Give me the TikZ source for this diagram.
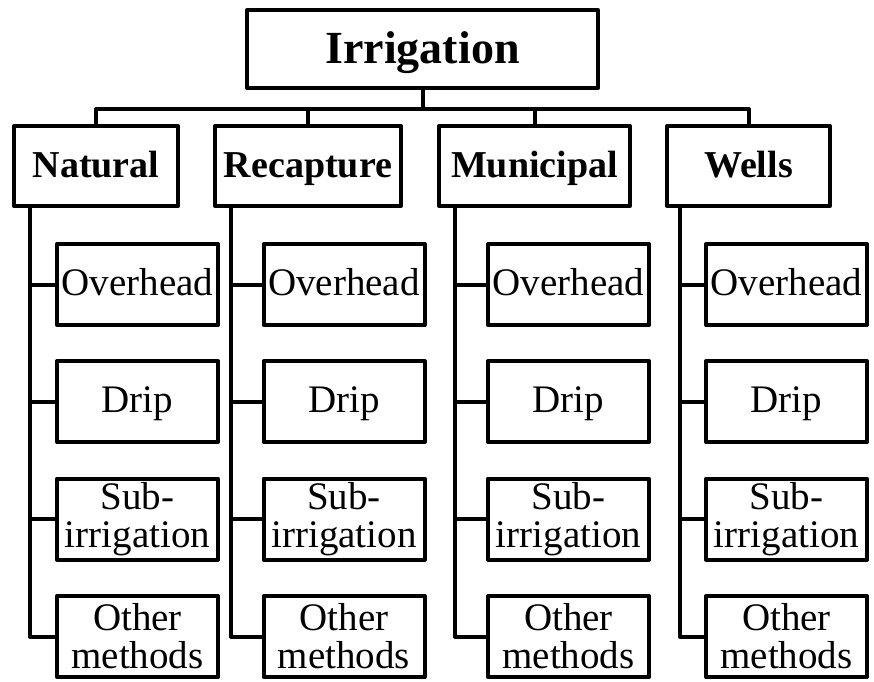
\documentclass[tikz,border=0pt]{standalone}
\usepackage{fontspec}
\setmainfont{Liberation Serif}

\begin{document}
\begin{tikzpicture}[x=1pt, y=-1pt, line width=4pt, line join=round,
  top/.style={draw, minimum width=351, minimum height=78, inner sep=0pt, text height=36, text depth=8, font=\fontsize{46}{46}\selectfont\bfseries},
  src/.style={draw, minimum height=80, inner sep=0pt, text height=30, text depth=8, font=\fontsize{38}{38}\selectfont\bfseries},
  way/.style={draw, minimum width=161, minimum height=81, inner sep=0pt, align=center, font=\fontsize{39}{38}\selectfont},
  oneline/.style={text height=30, text depth=8}]

\useasboundingbox (0,0) rectangle (874,681);

\node[top] (irr) at (422.5, 49) {Irrigation};

\node[src, minimum width=164] (nat) at (96, 166) {Natural};
\node[src, minimum width=186] (rec) at (308, 166) {Recapture};
\node[src, minimum width=191] (mun) at (534.5, 166) {Municipal};
\node[src, minimum width=163] (wel) at (748.5, 166) {Wells};

% methods under each source
\foreach \p/\x in {nat/137.5, rec/344, mun/568.5, wel/786.5} {
  \node[way, oneline] (\p-o) at (\x, 284.5) {Overhead};
  \node[way, oneline] (\p-d) at (\x, 401.5) {Drip};
  \node[way] (\p-s) at (\x, 519) {Sub-\\irrigation};
  \node[way] (\p-m) at (\x, 636.5) {Other\\methods};
}

\foreach \p/\s in {nat/18, rec/18, mun/18, wel/15} {
  \draw (irr.south) -- ++(0, 19) -| (\p.north);
  \foreach \c in {o, d, s, m}
    \draw ([xshift=\s]\p.south west) |- (\p-\c.west);
}

\end{tikzpicture}
\end{document}
